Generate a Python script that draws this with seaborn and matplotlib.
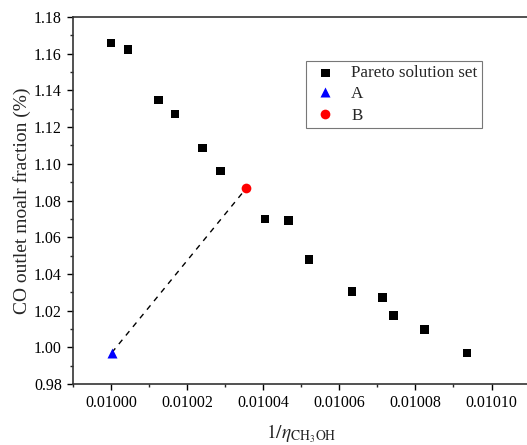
import matplotlib
matplotlib.use("Agg")
import matplotlib.pyplot as plt
import pandas as pd
import seaborn as sns
from matplotlib.ticker import MultipleLocator

# Pareto front
pareto_x = [0.0100000, 0.0100045, 0.0100124, 0.0100168, 0.0100240, 0.0100288,
            0.0100405, 0.0100467, 0.0100520, 0.0100633, 0.0100713, 0.0100743,
            0.0100824, 0.0100936]
pareto_y = [1.1658, 1.1624, 1.1348, 1.1271, 1.1086, 1.0962,
            1.0699, 1.0692, 1.0480, 1.0305, 1.0272, 1.0172,
            1.0098, 0.9968]
point_a = (0.0100002, 0.9971)
point_b = (0.0100355, 1.0866)

sns.set_theme(style="ticks")
plt.rcParams["font.family"] = ["Liberation Serif", "DejaVu Serif"]
plt.rcParams["mathtext.fontset"] = "stix"

fig = plt.figure(figsize=(5.27, 4.45), dpi=100)
ax = fig.add_axes([0.1385, 0.137, 0.8664, 0.8247])

df = pd.DataFrame({"x": pareto_x, "y": pareto_y})
sns.scatterplot(data=df, x="x", y="y", ax=ax, marker="s", color="black",
                s=38, edgecolor="none", label="Pareto solution set", zorder=3)
ax.plot([point_a[0], point_b[0]], [point_a[1], point_b[1]], ls=(0, (4, 4)),
        color="black", lw=1, zorder=2)
ax.plot(point_a[0], point_a[1], "^", color="blue", ms=7, mec="none",
        label="A", ls="none", zorder=4)
ax.plot(point_b[0], point_b[1], "o", color="red", ms=7, mec="none",
        label="B", ls="none", zorder=4)

ax.set_xlim(0.00999, 0.01011)
ax.set_ylim(0.98, 1.18)
ax.xaxis.set_major_locator(MultipleLocator(0.00002))
ax.xaxis.set_minor_locator(MultipleLocator(0.00001))
ax.yaxis.set_major_locator(MultipleLocator(0.02))
ax.yaxis.set_minor_locator(MultipleLocator(0.01))
ax.xaxis.set_major_formatter(plt.FuncFormatter(lambda v, p: f"{v:.5f}"))
ax.yaxis.set_major_formatter(plt.FuncFormatter(lambda v, p: f"{v:.2f}"))
ax.tick_params(which="major", direction="out", length=4, width=1,
               labelsize=11.5, colors="black", pad=4)
ax.tick_params(which="minor", direction="out", length=2.5, width=1)
for s in ax.spines.values():
    s.set_linewidth(1.2)
    s.set_color("#333333")

ax.set_xlabel(r"$1/\eta_{\mathrm{CH_3OH}}$", fontsize=14, labelpad=8)
ax.set_ylabel("CO outlet moalr fraction (%)", fontsize=14, labelpad=2)

leg = ax.legend(loc="upper left", bbox_to_anchor=(0.510, 0.880), fontsize=12.3,
                frameon=True, fancybox=False, edgecolor="#555555",
                borderpad=0.25, labelspacing=0.3, handletextpad=0.6,
                handlelength=1.8, borderaxespad=0)
leg.get_frame().set_linewidth(0.8)

fig.savefig("out.png", dpi=100)
